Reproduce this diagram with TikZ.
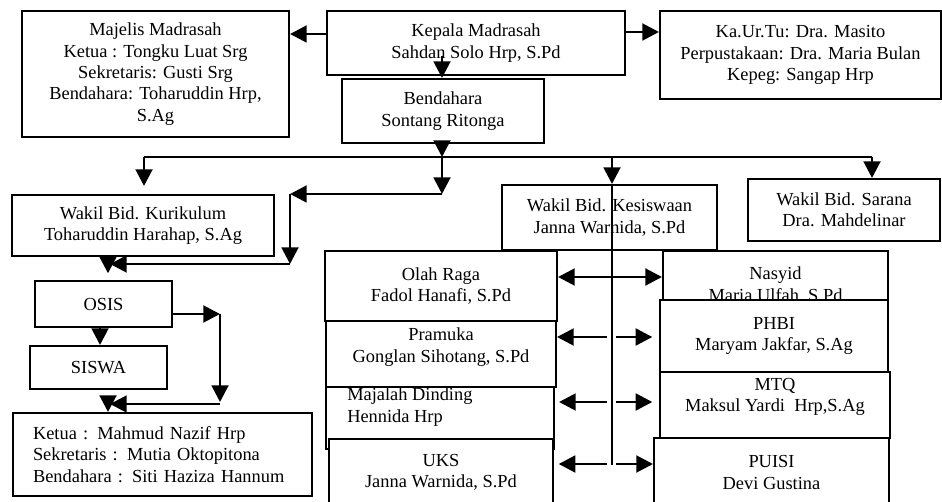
\documentclass[tikz,border=0pt]{standalone}
\usepackage{fontspec}
\setmainfont{Liberation Serif}
\usetikzlibrary{arrows.meta}
\begin{document}
\begin{tikzpicture}[x=0.75pt,y=-0.75pt,
  box/.style={draw, line width=1.5pt, fill=white, inner sep=0pt, align=center,
    font=\fontsize{13.8}{16}\selectfont},
  txt/.style={inner sep=0pt, font=\fontsize{13.8}{16}\selectfont},
  arr/.style={line width=2.2pt, -{Triangle[length=12.5pt,width=12.5pt]}},
  darr/.style={line width=2.2pt, {Triangle[length=12.5pt,width=12.5pt]}-{Triangle[length=12.5pt,width=12.5pt]}},
  busline/.style={line width=1.7pt}]
\useasboundingbox (0,0) rectangle (942,502);
% top row
\node[box, minimum width=267*0.75pt, minimum height=126*0.75pt] (majelis) at (155.5,74)
  {Majelis Madrasah\\Ketua : Tongku Luat Srg\\Sekretaris: Gusti Srg\\Bendahara: Toharuddin Hrp,\\S.Ag};
\node[box, minimum width=298*0.75pt, minimum height=64*0.75pt] (kepala) at (476,43)
  {Kepala Madrasah\\Sahdan Solo Hrp, S.Pd};
\node[box, minimum width=281*0.75pt, minimum height=88*0.75pt] (tu) at (800.5,55)
  {Ka.Ur.Tu: Dra. Masito\\Perpustakaan: Dra. Maria Bulan\\Kepeg: Sangap Hrp};
\node[box, minimum width=202*0.75pt, minimum height=64*0.75pt] (bend) at (443,111)
  {Bendahara\\Sontang Ritonga};
% left column
\node[box, minimum width=262*0.75pt, minimum height=61*0.75pt] (kuri) at (143,225.5)
  {Wakil Bid. Kurikulum\\Toharuddin Harahap, S.Ag};
\node[box, minimum width=137*0.75pt, minimum height=46*0.75pt] (osis) at (103.5,304) {OSIS};
\node[box, minimum width=137*0.75pt, minimum height=43*0.75pt] (siswa) at (98.5,367.5) {SISWA};
\node[box, align=left, text width=259*0.75pt, inner xsep=20*0.75pt, minimum height=83*0.75pt] (ketua) at (162.5,454.5)
  {Ketua : Mahmud Nazif Hrp\\Sekretaris : Mutia Oktopitona\\Bendahara : Siti Haziza Hannum};
% wakil
\node[box, minimum width=215*0.75pt, minimum height=65*0.75pt] (kesis) at (609.5,217.5)
  {Wakil Bid. Kesiswaan\\Janna Warnida, S.Pd};
\node[box, minimum width=192*0.75pt, minimum height=62*0.75pt] (sarana) at (844,210)
  {Wakil Bid. Sarana\\Dra. Mahdelinar};
% middle-left column
\node[box, minimum width=232*0.75pt, minimum height=70*0.75pt] (olah) at (441,286)
  {Olah Raga\\Fadol Hanafi, S.Pd};
\node[box, minimum width=230*0.75pt, minimum height=66*0.75pt] (pramuka) at (441,354) {};
\node[txt, align=center] (pramukat) at (441,347) {Pramuka\\Gonglan Sihotang, S.Pd};
\node[box, minimum width=228*0.75pt, minimum height=62*0.75pt] (majalah) at (440,418) {};
\node[txt, align=left, anchor=west] (majalaht) at (347,407) {Majalah Dinding\\Hennida Hrp};
\node[box, minimum width=224*0.75pt, minimum height=67*0.75pt] (uks) at (441,472.5)
  {UKS\\Janna Warnida, S.Pd};
% right column
\node[box, minimum width=225*0.75pt, minimum height=69*0.75pt] (nasyid) at (775.5,285.5)
  {Nasyid\\Maria Ulfah, S.Pd};
\node[box, minimum width=228*0.75pt, minimum height=72*0.75pt] (phbi) at (774,336)
  {PHBI\\Maryam Jakfar, S.Ag};
\node[box, minimum width=230*0.75pt, minimum height=66*0.75pt] (mtq) at (775,405) {};
\node[txt, align=center] (mtqt) at (775,397) {MTQ\\Maksul Yardi\ \ Hrp,S.Ag};
\node[box, minimum width=235*0.75pt, minimum height=69*0.75pt] (puisi) at (771.5,472.5)
  {PUISI\\Devi Gustina};
% connectors top
\draw[arr] (kepala.west |- 0,34) -- (majelis.east |- 0,34);
\draw[arr] (kepala.east |- 0,32) -- (tu.west |- 0,32);
\coordinate (k1) at (442,56);
\draw[arr] (k1) -- (k1 |- bend.north);
\coordinate (b1) at (442,157);
\draw[arr] (bend.south -| b1) -- (b1);
\coordinate (busL) at (144,157);
\coordinate (busR) at (872,157);
\draw[busline] (busL) -- (busR);
\draw[arr, shorten >=6pt] (busL) -- (busL |- kuri.north);
\coordinate (b2) at (442,194);
\coordinate (b3) at (290,194);
\coordinate (b4) at (290,264);
\coordinate (b5) at (110,264);
\draw[arr] (b1) -- (b2);
\draw[arr] (b2) -- (b3);
\draw[arr] (b3) -- (b4);
\draw[arr] (b4) -- (b5);
\draw[arr, shorten >=5pt] (kuri.south -| 108,0) -- (osis.north -| 108,0);
\coordinate (s1) at (612,157);
\draw[arr] (s1) -- (s1 |- kesis.north);
\coordinate (vb) at (612,465);
\draw[line width=1.7pt] (s1 |- kesis.north) -- (vb);
\draw[arr] (busR) -- (busR |- sarana.north);
% osis branch
\draw[arr] (osis.south -| 100,0) -- (siswa.north -| 100,0);
\coordinate (o1) at (220,314);
\coordinate (o2) at (220,402);
\coordinate (o3) at (110,404);
\coordinate (o4) at (108,398);
\draw[arr] (osis.east |- o1) -- (o1);
\draw[arr] (o1) -- (o2);
\draw[arr] (o2 |- o3) -- (o3);
\draw[arr] (o4) -- (o4 |- ketua.north);
% activity arrows
\draw[darr] (olah.east |- 0,277) -- (nasyid.west |- 0,277);
\coordinate (L2) at (607,337); \coordinate (R2) at (616,337);
\coordinate (L3) at (607,402); \coordinate (R3) at (616,402);
\coordinate (L4) at (607,464); \coordinate (R4) at (616,464);
\draw[arr] (L2) -- (pramuka.east |- L2);
\draw[arr, shorten >=5pt] (R2) -- (phbi.west |- R2);
\draw[arr, shorten >=3pt] (L3) -- (majalah.east |- L3);
\draw[arr, shorten >=5pt] (R3) -- (mtq.west |- R3);
\draw[arr, shorten >=3.5pt] (L4) -- (uks.east |- L4);
\draw[arr] (R4) -- (puisi.west |- R4);
\end{tikzpicture}
\end{document}
